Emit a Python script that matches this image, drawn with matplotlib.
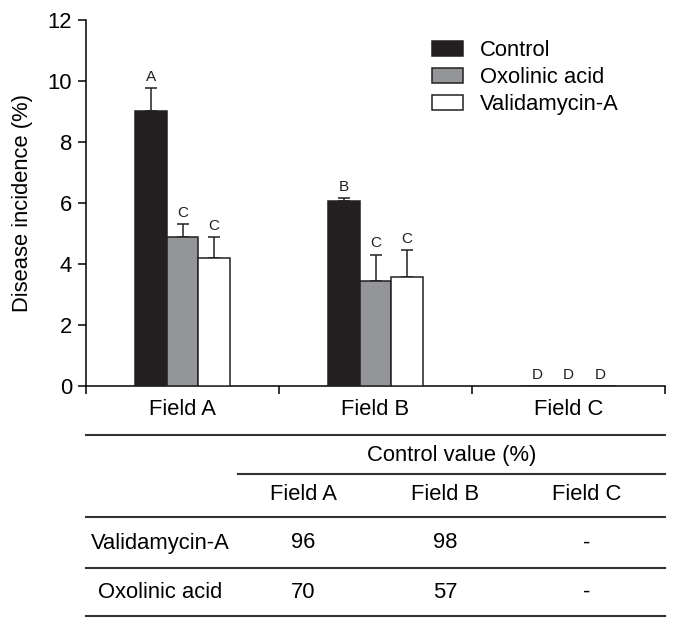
import numpy as np
import matplotlib
matplotlib.use("Agg")
import matplotlib.pyplot as plt
from matplotlib.lines import Line2D

plt.rcParams['font.family'] = ['Liberation Sans', 'DejaVu Sans']

# chart data
fields = ['Field A', 'Field B', 'Field C']
series = ['Control', 'Oxolinic acid', 'Validamycin-A']
control = [9.0, 6.05, 0.0]
control_err = [0.77, 0.12, 0.0]
oxolinic = [4.87, 3.43, 0.0]
oxolinic_err = [0.43, 0.87, 0.0]
validamycin = [4.2, 3.56, 0.0]
validamycin_err = [0.67, 0.88, 0.0]
letters_control = ['A', 'B', 'D']
letters_oxolinic = ['C', 'C', 'D']
letters_validamycin = ['C', 'C', 'D']

# table data
table_title = 'Control value (%)'
table_cols = ['Field A', 'Field B', 'Field C']
table_rows = ['Validamycin-A', 'Oxolinic acid']
table_values = [['96', '98', '-'],
                ['70', '57', '-']]

W, H = 678, 629
FS = 15.8
fig = plt.figure(figsize=(W / 100, H / 100), dpi=100)


def fx(px):
    return px / W


def fy(py):
    return 1 - py / H


ax = fig.add_axes([fx(86), fy(385.7), fx(665) - fx(86), fy(20) - fy(385.7)])

colors = ['#231f20', '#939598', 'white']
vals = [control, oxolinic, validamycin]
errs = [control_err, oxolinic_err, validamycin_err]
letters = [letters_control, letters_oxolinic, letters_validamycin]
width = 0.163
x = np.arange(len(fields)) + 0.5

for j in range(3):
    xs = x + (j - 1) * width
    ax.bar(xs, vals[j], width, color=colors[j], edgecolor='#231f20',
           linewidth=1.1, label=series[j], zorder=3)
    v = np.array(vals[j])
    e = np.array(errs[j])
    m = e > 0
    ax.errorbar(xs[m], v[m], yerr=[np.zeros(m.sum()), e[m]], fmt='none',
                ecolor='#231f20', elinewidth=1.1, capsize=4.5, capthick=1.1,
                zorder=2)
    for k in range(len(fields)):
        ax.annotate(letters[j][k], (xs[k], v[k] + e[k]), xytext=(0, 3),
                    textcoords='offset points', ha='center', va='bottom',
                    fontsize=11, color='#231f20')

ax.set_xlim(0, 3)
ax.set_ylim(0, 12)
ax.set_yticks(np.arange(0, 13, 2))
ax.set_xticks(x)
ax.set_xticklabels(fields)
ax.set_xticks([0, 1, 2, 3], minor=True)
ax.tick_params(axis='x', which='major', length=0, pad=9.5, labelsize=FS)
ax.tick_params(axis='x', which='minor', length=5.5, width=1.1, direction='out')
ax.tick_params(axis='y', length=6, width=1.1, direction='out', pad=4,
               labelsize=FS)
for s in ['top', 'right']:
    ax.spines[s].set_visible(False)
for s in ['left', 'bottom']:
    ax.spines[s].set_linewidth(1.1)
ax.set_ylabel('Disease incidence (%)', fontsize=FS)
ax.yaxis.set_label_coords((33 - 86) / 579, 0.5)

ax.legend(loc='upper left', bbox_to_anchor=(fx(432), fy(40)),
          bbox_transform=fig.transFigure, frameon=False, fontsize=FS,
          handlelength=1.42, handleheight=0.72, handletextpad=0.78,
          labelspacing=0.28, borderpad=0, borderaxespad=0)

# table below the chart
line_ys = [435, 474, 517, 568, 616]
for i, ly in enumerate(line_ys):
    x0 = 238 if i == 1 else 86
    fig.add_artist(Line2D([fx(x0), fx(665)], [fy(ly), fy(ly)],
                          color='#333333', linewidth=1.5))

fig.text(fx(451.5), fy(455), table_title, ha='center', va='center', fontsize=FS)
col_x = [303, 445, 587]
for cx, c in zip(col_x, table_cols):
    fig.text(fx(cx), fy(495), c, ha='center', va='center', fontsize=FS)
row_y = [543, 592]
for ry, r, rowvals in zip(row_y, table_rows, table_values):
    fig.text(fx(160), fy(ry), r, ha='center', va='center', fontsize=FS)
    for cx, val in zip(col_x, rowvals):
        fig.text(fx(cx), fy(ry), val, ha='center', va='center', fontsize=FS)

fig.savefig('out.png', dpi=100)
